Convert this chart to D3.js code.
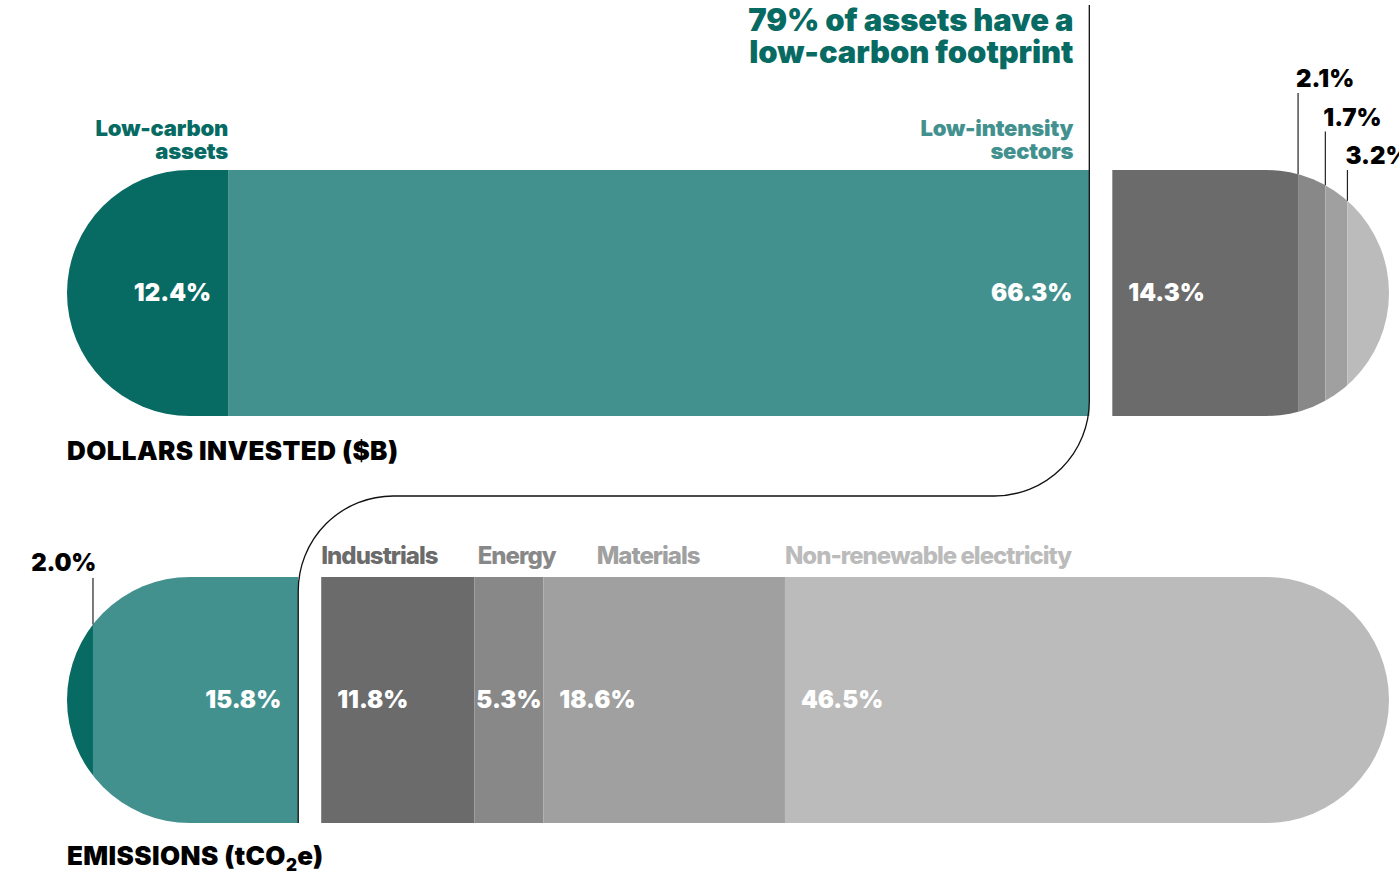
<!DOCTYPE html>
<html>
<head>
<meta charset="utf-8">
<script src="https://cdn.jsdelivr.net/npm/d3@7"></script>
<style>
  body { margin: 0; background: #fff; }
  svg { display: block; font-family: Inter, "Noto Sans", sans-serif; }
</style>
</head>
<body>
<div id="chart"></div>
<script>
// shares in percent, left to right
const dollarsValues = [12.4, 66.3, 14.3, 2.1, 1.7, 3.2];
const emissionsValues = [2.0, 15.8, 11.8, 5.3, 18.6, 46.5];
const dollarsCategories = ["Low-carbon assets", "Low-intensity sectors", "", "", "", ""];
const emissionsCategories = ["", "", "Industrials", "Energy", "Materials", "Non-renewable electricity"];
const segmentKeys = ["lowCarbon", "lowIntensity", "seg3", "seg4", "seg5", "seg6"];
const palette = ["#076b63", "#43918f", "#6b6b6b", "#888888", "#a0a0a0", "#bbbbbb"];
const headline = ["79% of assets have a", "low-carbon footprint"];

const width = 1399, height = 874;
const left = 67, right = 1389, gap = 23;
const barH = 246;
const r = barH / 2;
const W = 900;

const color = d3.scaleOrdinal().domain(segmentKeys).range(palette);
const x = d3.scaleLinear().domain([0, 100]).range([left, right - gap]);

const svg = d3.select("#chart").append("svg")
    .attr("width", width)
    .attr("height", height);

// compute segment extents, gap after the two green ones
function layout(values) {
    let acc = 0;
    return values.map((v, i) => {
        const off = i >= 2 ? gap : 0;
        const x0 = x(acc) + off;
        acc += v;
        const x1 = x(acc) + off;
        return { key: segmentKeys[i], value: v, i, x0, x1 };
    });
}

// top edge of the pill at a given x
function pillTop(px, y0) {
    const cy = y0 + r;
    if (px < left + r) return cy - Math.sqrt(Math.max(0, r * r - (left + r - px) ** 2));
    if (px > right - r) return cy - Math.sqrt(Math.max(0, r * r - (px - (right - r)) ** 2));
    return y0;
}

function drawBar(id, values, y0) {
    const segs = layout(values);
    svg.append("clipPath").attr("id", id)
        .append("rect")
        .attr("x", left).attr("y", y0)
        .attr("width", right - left).attr("height", barH)
        .attr("rx", r).attr("ry", r);

    svg.append("g").attr("clip-path", `url(#${id})`)
        .selectAll("rect")
        .data(segs)
        .join("rect")
        .attr("x", d => d.x0)
        .attr("y", y0)
        .attr("width", d => d.x1 - d.x0)
        .attr("height", barH)
        .attr("fill", d => color(d.key));
    return segs;
}

const topY = 170, botY = 577;
const topSegs = drawBar("clip-top", dollarsValues, topY);
const botSegs = drawBar("clip-bot", emissionsValues, botY);

const fmt = d => d3.format(".1f")(d) + "%";

function valueLabel(d, y0, anchor) {
    const t = svg.append("text")
        .attr("y", y0 + r + 8)
        .attr("fill", "#fff")
        .attr("font-size", 24)
        .attr("font-weight", W)
        .attr("letter-spacing", "0px")
        .text(fmt(d.value));
    if (anchor === "end") t.attr("x", d.x1 - 17).attr("text-anchor", "end");
    else if (anchor === "middle") t.attr("x", (d.x0 + d.x1) / 2).attr("text-anchor", "middle");
    else t.attr("x", d.x0 + 16);
}

// top bar labels
valueLabel(topSegs[0], topY, "end");
valueLabel(topSegs[1], topY, "end");
valueLabel(topSegs[2], topY, "start");

// small segments: callouts above the rounded end
topSegs.slice(3).forEach((d, k) => {
    const base = 87 + k * 38.5;
    svg.append("text")
        .attr("x", d.x0 - 2).attr("y", base)
        .attr("font-size", 24).attr("font-weight", W)
        .attr("letter-spacing", "0px")
        .attr("fill", "#000")
        .text(fmt(d.value));
    svg.append("line")
        .attr("x1", d.x0).attr("x2", d.x0)
        .attr("y1", base + 6).attr("y2", pillTop(d.x0, topY))
        .attr("stroke", "#222").attr("stroke-width", 1.2);
});

// category labels above the top bar
[0, 1].forEach(i => {
    const d = topSegs[i];
    const words = dollarsCategories[i].split(" ");
    const xx = i === 0 ? d.x1 : d.x1 - 16;
    const t = svg.append("text")
        .attr("text-anchor", "end")
        .attr("font-size", 22).attr("font-weight", W)
        .attr("letter-spacing", "-0.2px")
        .attr("fill", color(d.key));
    words.forEach((w, j) => t.append("tspan").attr("x", xx).attr("y", 136 + j * 23).text(w));
});

// headline
const hl = svg.append("text")
    .attr("text-anchor", "end")
    .attr("font-size", 31).attr("font-weight", W)
    .attr("letter-spacing", "-0.1px")
    .attr("fill", palette[0]);
headline.forEach((s, j) => hl.append("tspan").attr("x", topSegs[1].x1 - 16).attr("y", 31 + j * 32).text(s));

// bottom bar labels
const small = botSegs[0];
svg.append("text")
    .attr("x", small.x1 + 3).attr("y", 571)
    .attr("text-anchor", "end")
    .attr("font-size", 24).attr("font-weight", W)
    .attr("letter-spacing", "-0.3px")
    .text(fmt(small.value));
svg.append("line")
    .attr("x1", small.x1).attr("x2", small.x1)
    .attr("y1", botY + 1).attr("y2", pillTop(small.x1, botY))
    .attr("stroke", "#222").attr("stroke-width", 1.2);

valueLabel(botSegs[1], botY, "end");
botSegs.slice(2).forEach(d => valueLabel(d, botY, (d.x1 - d.x0) < 100 ? "middle" : "start"));

// category names, pushed right when they would collide
let prevEnd = -Infinity;
botSegs.slice(2).forEach(d => {
    const t = svg.append("text")
        .attr("x", Math.max(d.x0, prevEnd + 40))
        .attr("y", 564)
        .attr("font-size", 24).attr("font-weight", 800)
        .attr("letter-spacing", "-1px")
        .attr("fill", color(d.key))
        .text(emissionsCategories[d.i]);
    const bb = t.node().getBBox();
    prevEnd = bb.x + bb.width;
});

// connector from top green group to bottom green group
const cx1 = topSegs[1].x1, cx2 = botSegs[1].x1;
const midY = 496, cr = 95;
const path = d3.path();
path.moveTo(cx1, 5);
path.lineTo(cx1, midY - cr);
path.arcTo(cx1, midY, cx1 - cr, midY, cr);
path.lineTo(cx2 + cr, midY);
path.arcTo(cx2, midY, cx2, midY + cr, cr);
path.lineTo(cx2, botY + barH);
svg.append("path")
    .attr("d", path.toString())
    .attr("fill", "none")
    .attr("stroke", "#111")
    .attr("stroke-width", 1.3);

// bar titles
svg.append("text")
    .attr("x", left).attr("y", 460)
    .attr("font-size", 26).attr("font-weight", W)
    .attr("letter-spacing", "0.4px")
    .text("DOLLARS INVESTED ($B)");

const em = svg.append("text")
    .attr("x", left).attr("y", 865)
    .attr("font-size", 26).attr("font-weight", W)
    .attr("letter-spacing", "0.4px");
em.append("tspan").text("EMISSIONS (tCO");
em.append("tspan").attr("dy", 6).attr("font-size", 17).text("2");
em.append("tspan").attr("dy", -6).text("e)");
</script>
</body>
</html>
